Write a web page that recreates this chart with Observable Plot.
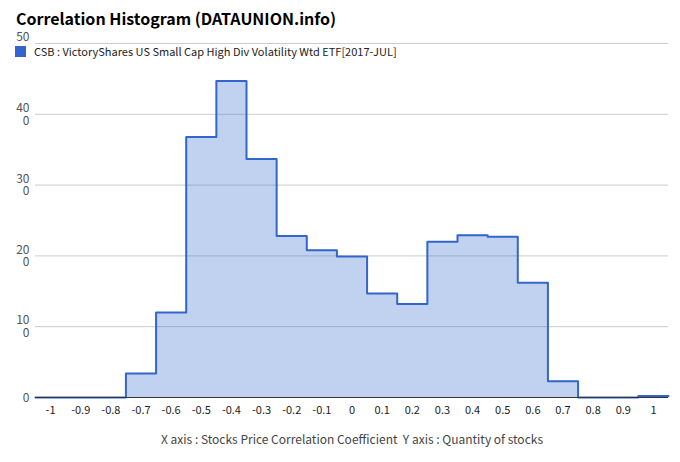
<!DOCTYPE html>
<html>
<head>
<meta charset="utf-8">
<script src="https://cdn.jsdelivr.net/npm/d3@7"></script>
<script src="https://cdn.jsdelivr.net/npm/@observablehq/plot@0.6"></script>
<style>
  body { margin: 0; background: #fff; font-family: "Noto Sans CJK KR", "Noto Sans", sans-serif; }
  #wrap { position: relative; width: 680px; height: 462px; }
  #title { position: absolute; left: 16px; top: 6px; font-size: 16px; font-weight: bold; color: #000; white-space: nowrap; }
  #legend { position: absolute; left: 15px; top: 43px; font-size: 11px; color: #222; display: flex; align-items: center; white-space: nowrap; }
  #legend .sw { width: 11px; height: 11px; background: #3366cc; margin-right: 8px; }
  svg { position: absolute; left: 0; top: 0; }
</style>
</head>
<body>
<div id="wrap"></div>
<script>
const titleText = "Correlation Histogram (DATAUNION.info)";
const seriesName = "CSB : VictoryShares US Small Cap High Div Volatility Wtd ETF[2017-JUL]";
const xTitle = "X axis : Stocks Price Correlation Coefficient  Y axis : Quantity of stocks";

// bin centers (correlation coefficient)
const bins = [-1, -0.9, -0.8, -0.7, -0.6, -0.5, -0.4, -0.3, -0.2, -0.1, 0, 0.1, 0.2, 0.3, 0.4, 0.5, 0.6, 0.7, 0.8, 0.9, 1];
// quantity of stocks per bin
const counts = [0, 0, 0, 3.4, 12, 36.8, 44.7, 33.7, 22.8, 20.8, 19.9, 14.7, 13.2, 22, 22.9, 22.7, 16.2, 2.3, 0, 0, 0.2];

const xTicks = bins;
const xTickLabels = ["-1", "-0.9", "-0.8", "-0.7", "-0.6", "-0.5", "-0.4", "-0.3", "-0.2", "-0.1", "0", "0.1", "0.2", "0.3", "0.4", "0.5", "0.6", "0.7", "0.8", "0.9", "1"];
const yTicks = [0, 10, 20, 30, 40, 50];
const yTickLabels = ["0", "10\n0", "20\n0", "30\n0", "40\n0", "50\n\u00a0"];

const binWidth = 0.1;
const steps = bins.map((c, i) => ({x: c - binWidth / 2, y: counts[i]}));
steps.push({x: bins[bins.length - 1] + binWidth / 2, y: counts[counts.length - 1]});

const font = '"Noto Sans CJK KR", "Noto Sans", sans-serif';

const chart = Plot.plot({
  width: 680,
  height: 462,
  marginLeft: 35,
  marginRight: 12,
  marginTop: 43,
  marginBottom: 65,
  style: {fontFamily: font, background: "transparent"},
  x: {domain: [-1.05, 1.05]},
  y: {domain: [0, 50]},
  marks: [
    Plot.gridY(yTicks, {stroke: "#cccccc", strokeOpacity: 1}),
    Plot.areaY(steps, {x: "x", y: "y", curve: "step-after", fill: "#3366cc", fillOpacity: 0.3}),
    Plot.lineY(steps, {x: "x", y: "y", curve: "step-after", stroke: "#3366cc", strokeWidth: 2, strokeLinejoin: "round"}),
    Plot.ruleY([0], {stroke: "#333333", strokeWidth: 1}),
    Plot.axisY({ticks: yTicks, tickSize: 0, tickPadding: 6, label: null,
      tickFormat: (d) => yTickLabels[yTicks.indexOf(d)], fontSize: 12, fill: "#555", lineHeight: 1.05}),
    Plot.axisX({ticks: xTicks, tickSize: 0, tickPadding: 9, fontSize: 11, fill: "#222",
      tickFormat: (d) => xTickLabels[xTicks.findIndex(t => Math.abs(t - d) < 1e-9)],
      label: null}),
    Plot.axisX({ticks: [], tickSize: 0, fontSize: 12, fill: "#444",
      label: xTitle, labelAnchor: "center", labelArrow: "none", labelOffset: 46})
  ]
});
const wrap = document.getElementById("wrap");
wrap.appendChild(chart);
const t = document.createElement("div"); t.id = "title"; t.textContent = titleText; wrap.appendChild(t);
const lg = document.createElement("div"); lg.id = "legend";
lg.innerHTML = '<div class="sw"></div><span></span>';
lg.querySelector("span").textContent = seriesName;
wrap.appendChild(lg);
</script>
</body>
</html>
